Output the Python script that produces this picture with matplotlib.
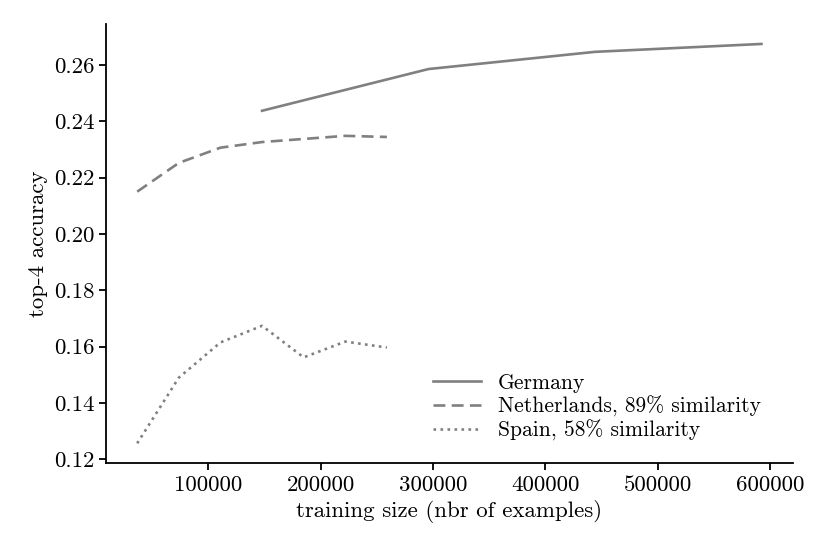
import matplotlib
matplotlib.use("Agg")
import matplotlib.pyplot as plt

plt.rcParams['font.family'] = ['cmr10', 'DejaVu Serif']
plt.rcParams['mathtext.fontset'] = 'cm'
plt.rcParams['axes.formatter.use_mathtext'] = True
plt.rcParams['font.size'] = 16.5

germany_x = [148000, 296000, 444000, 592000]
germany_y = [0.2437, 0.2585, 0.2646, 0.2674]

nl_x = [37000, 74000, 111000, 148000, 185000, 222000, 259000]
nl_y = [0.2150, 0.2252, 0.2306, 0.2326, 0.2337, 0.2348, 0.2344]

es_x = [37000, 74000, 111000, 148000, 185000, 222000, 259000]
es_y = [0.1257, 0.1490, 0.1615, 0.1674, 0.1562, 0.1618, 0.1597]

labels = ["Germany", "Netherlands, 89% similarity", "Spain, 58% similarity"]

fig = plt.figure(figsize=(8.3, 5.54), dpi=100)
ax = fig.add_axes([0.1277, 0.1637, 0.8273, 0.793])
c = '#808080'
ax.plot(germany_x, germany_y, color=c, lw=1.9, ls='-', label=labels[0])
ax.plot(nl_x, nl_y, color=c, lw=1.9, ls=(0, (4.5, 2.4)), label=labels[1])
ax.plot(es_x, es_y, color=c, lw=1.9, ls=':', label=labels[2])

ax.set_yticks([0.12, 0.14, 0.16, 0.18, 0.20, 0.22, 0.24, 0.26])
ax.set_yticklabels(["0.12", "0.14", "0.16", "0.18", "0.20", "0.22", "0.24", "0.26"])
ax.set_xticks([100000, 200000, 300000, 400000, 500000, 600000])
ax.set_xticklabels(["100000", "200000", "300000", "400000", "500000", "600000"])
ax.set_xlabel("training size (nbr of examples)")
ax.set_ylabel("top-4 accuracy")
ax.spines['top'].set_visible(False)
ax.spines['right'].set_visible(False)
ax.spines['left'].set_linewidth(1.3)
ax.spines['bottom'].set_linewidth(1.3)
ax.tick_params(width=1.3, length=5)
ax.legend(loc='center left', frameon=False, fontsize=15.5, handlelength=2.2,
          handletextpad=0.8, labelspacing=0.12,
          bbox_to_anchor=(414.0 / 830, 1 - 407.0 / 554),
          bbox_transform=fig.transFigure)

fig.savefig("out.png", dpi=100)
